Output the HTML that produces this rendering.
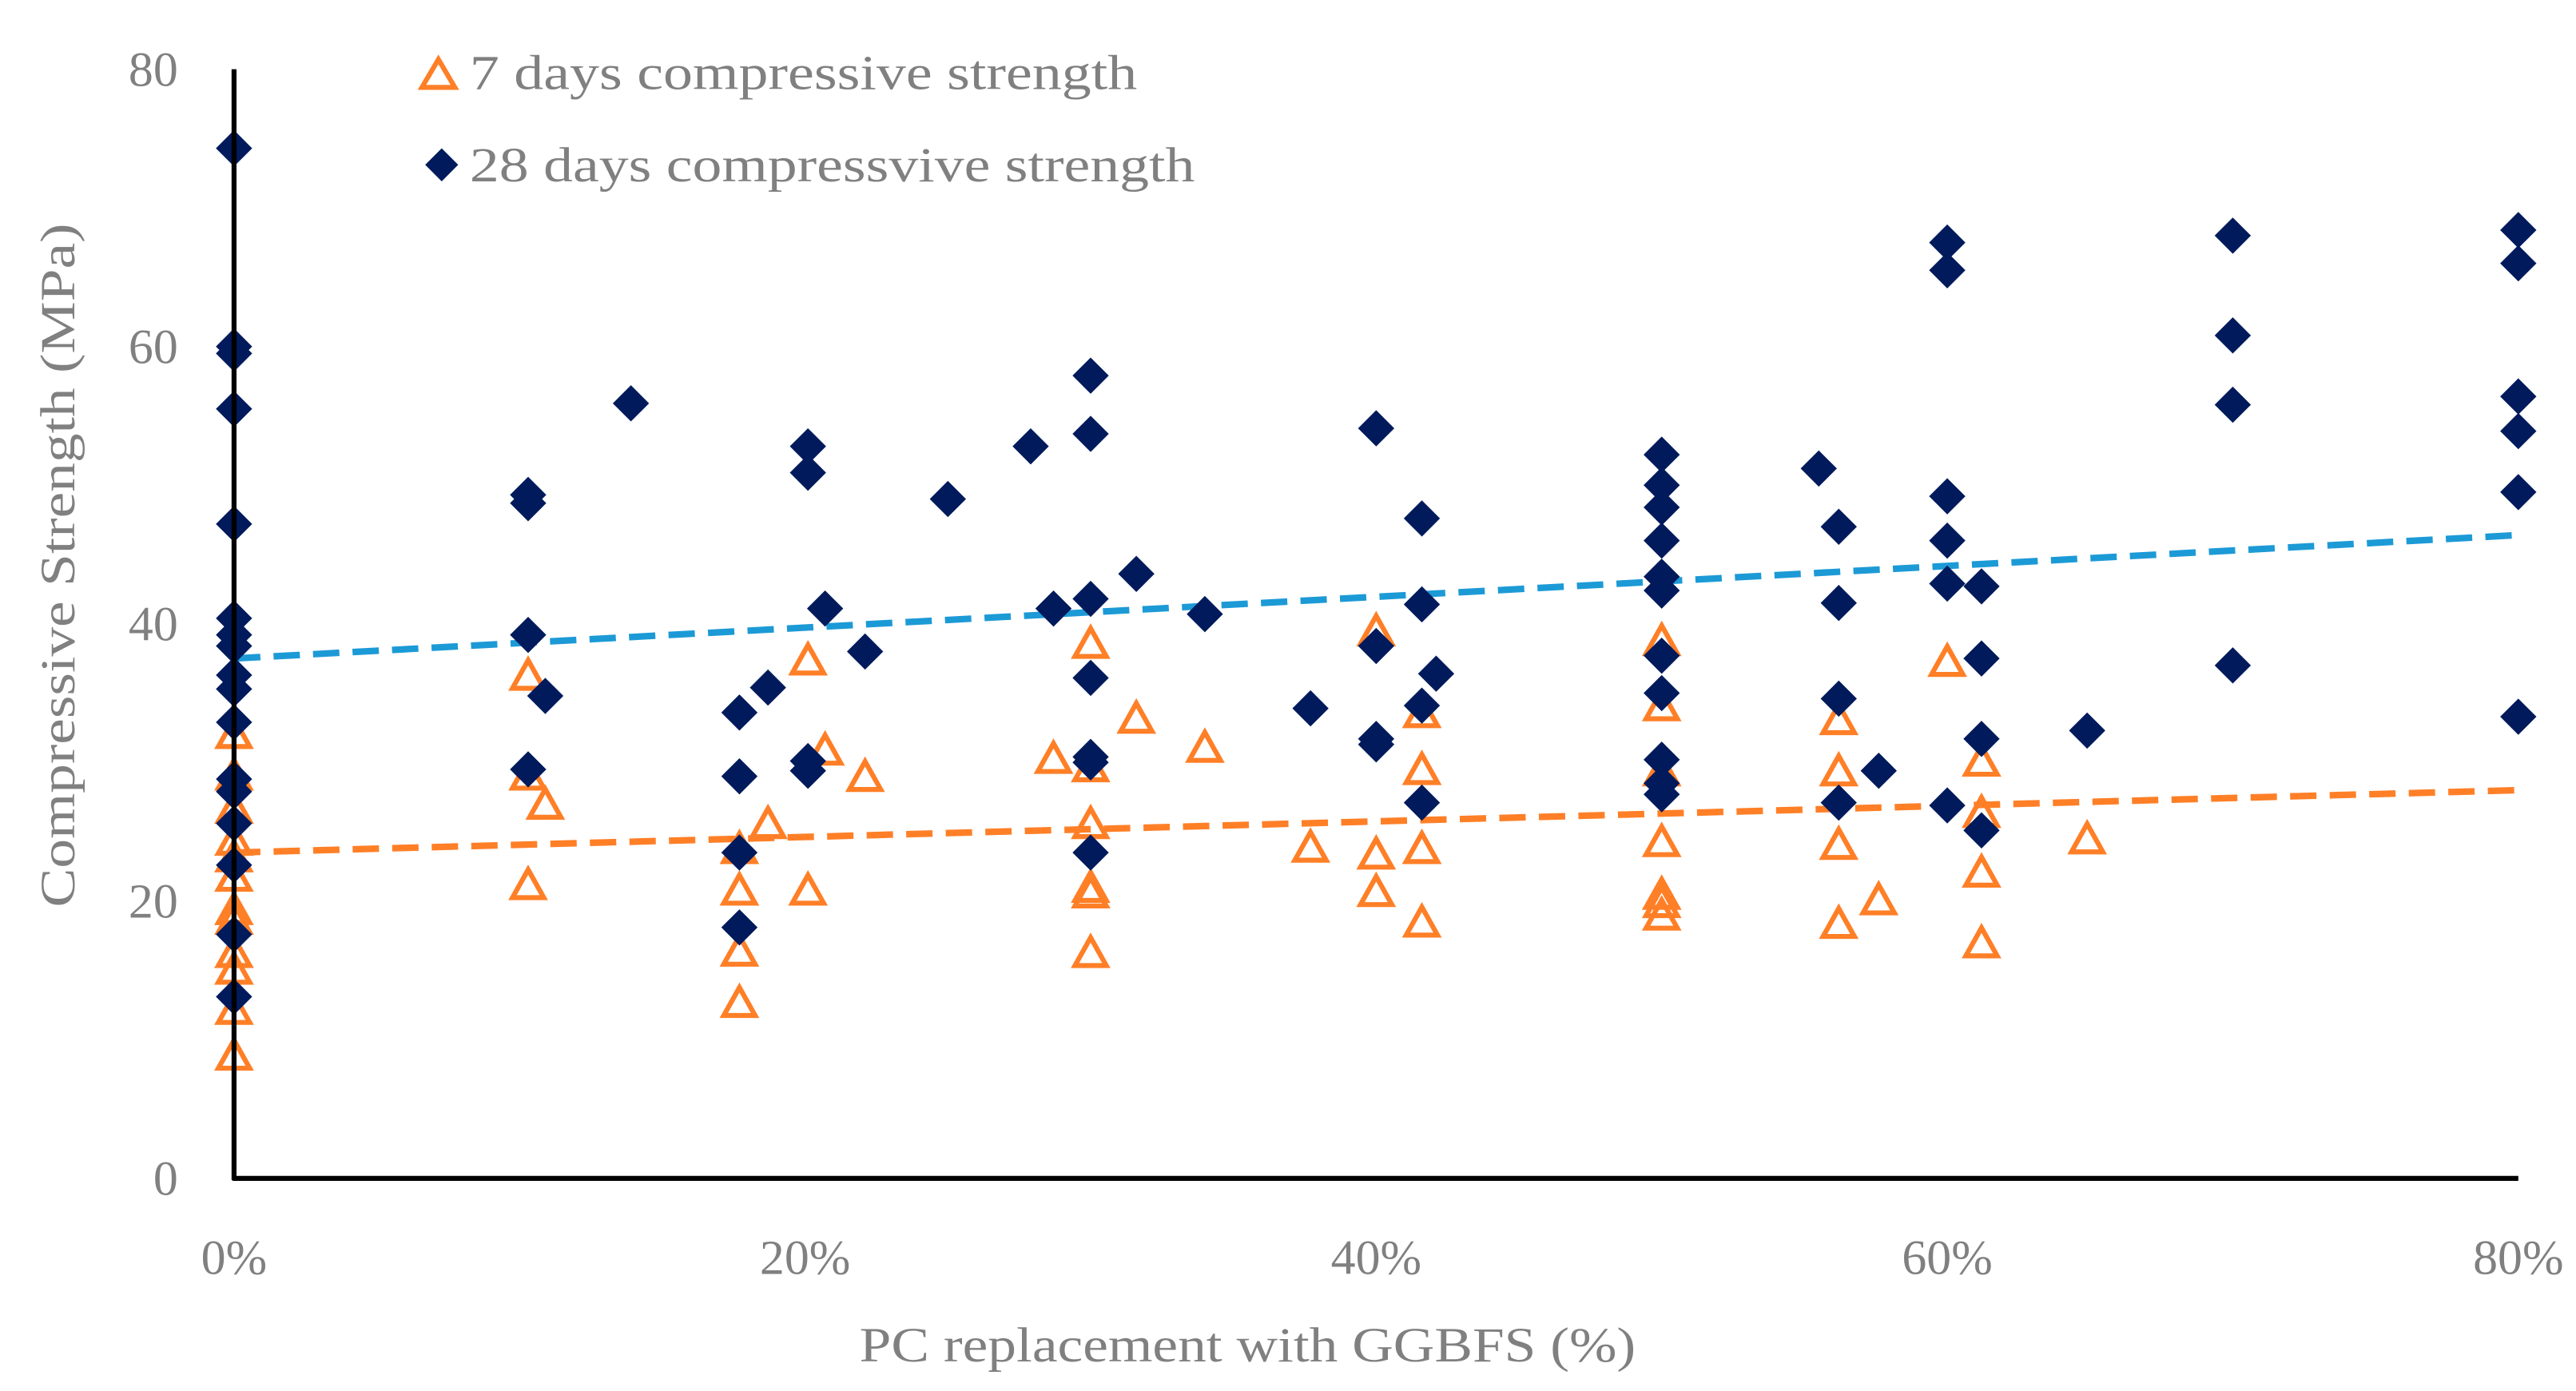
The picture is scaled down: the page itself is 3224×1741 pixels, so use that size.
<!DOCTYPE html>
<html><head><meta charset="utf-8">
<style>
html,body{margin:0;padding:0;background:#fff;}
svg{display:block;}
text{font-family:"Liberation Serif",serif;fill:#808080;}
</style></head>
<body>
<svg id="chart" width="3224" height="1741" viewBox="0 0 1563 844" xmlns="http://www.w3.org/2000/svg">
<g id="trend"></g>
<g id="marks"></g>
<line x1="142" y1="42" x2="142" y2="716" stroke="#000" stroke-width="3"/>
<line x1="141" y1="715" x2="1528" y2="715" stroke="#000" stroke-width="3"/>
<g id="ticks"></g>
<text transform="translate(45,343) rotate(-90)" text-anchor="middle" font-size="30" textLength="415" lengthAdjust="spacingAndGlyphs">Compressive Strength (MPa)</text>
<text x="757" y="826" text-anchor="middle" font-size="30" textLength="471" lengthAdjust="spacingAndGlyphs">PC replacement with GGBFS (%)</text>
<g>
<polygon points="266,36 276,53 256,53" fill="none" stroke="#ff7f27" stroke-width="3"/>
<text x="285" y="54" font-size="30" textLength="405" lengthAdjust="spacingAndGlyphs">7 days compressive strength</text>
<polygon points="268,90 278,100 268,110 258,100" fill="#001a5c"/>
<text x="285" y="110" font-size="30" textLength="440" lengthAdjust="spacingAndGlyphs">28 days compressvive strength</text>
</g>
</svg>
<script>
const xTicks = [0, 20, 40, 60, 80];
const yTicks = [0, 20, 40, 60, 80];
const d28x = [0,0,0,0,0,0,0,0,0,0,0,0,0,0,0,0,0,
 10.3,10.3,10.3,10.3,10.9,13.9,17.7,17.7,17.7,17.7,18.7,20.1,20.1,20.1,20.1,20.7,22.1,25.0,27.9,28.7,
 30,30,30,30,30,30,30,31.6,34.0,37.7,40,40,40,40,41.6,41.6,41.6,41.6,42.1,
 50,50,50,50,50,50,50,50,50,50,50,55.5,56.2,56.2,56.2,56.2,57.6,
 60,60,60,60,60,60,61.2,61.2,61.2,61.2,64.9,70,70,70,70,80,80,80,80,80,80];
const d28y = [74.3,60,59.5,55.5,47.2,40.4,39.2,38.4,36.3,35.3,32.9,28.8,27.9,25.6,22.6,17.6,13.1,
 49.3,48.7,39.2,29.5,34.8,55.9,33.6,29,23.5,18.1,35.4,52.8,50.9,30.1,29.4,41.1,38,49,52.8,41.1,
 57.9,53.7,41.8,36.1,30.4,30,23.5,43.6,40.7,33.9,54.1,38.4,31.7,31.3,47.6,41.4,34.1,27.1,36.4,
 52.2,50,48.4,46,43.4,42.4,37.7,35,30.2,28.5,27.7,51.2,47,41.5,34.6,27.1,29.4,
 67.5,65.5,49.2,46,42.9,26.9,42.7,37.5,31.7,25.1,32.3,68,60.8,55.8,37,68.4,66,56.4,53.9,49.5,33.3];
const d7x = [0,0,0,0,0,0,0,0,0,0,0,0,
 10.3,10.3,10.3,10.9,17.7,17.7,17.7,17.7,18.7,20.1,20.1,20.7,22.1,28.7,
 30,30,30,30,30,30,31.6,34.0,37.7,40,40,40,41.6,41.6,41.6,41.6,
 50,50,50,50,50,50,50,56.2,56.2,56.2,56.2,57.6,60,61.2,61.2,61.2,61.2,64.9];
const d7y = [32.1,29.1,26.7,24.4,23.2,21.8,19.4,18.7,16.3,15.1,12.2,8.9,
 36.3,29.1,21.2,27,23.8,20.8,16.4,12.7,25.6,37.4,20.8,30.9,29,30.3,
 38.6,29.7,25.6,21,20.6,16.3,33.2,31.1,23.9,39.5,23.4,20.7,33.6,29.5,23.8,18.5,
 38.8,34.1,29.4,24.3,20.5,19,19.9,33.1,29.4,24.1,18.4,20.1,37.3,30.1,26.4,22.1,17,24.5];
const trendX = [0, 80];
const trend28 = [37.5, 46.4];
const trend7 = [23.5, 28.0];

const NS = "http://www.w3.org/2000/svg";
const X = v => 142 + v / 80 * 1386;
const Y = v => 715 - v / 80 * 673;
function mk(tag, attrs, parent){const e=document.createElementNS(NS,tag);for(const k in attrs)e.setAttribute(k,attrs[k]);parent.appendChild(e);return e;}
const marks=document.getElementById('marks'), ticks=document.getElementById('ticks'), trend=document.getElementById('trend');

yTicks.forEach(t=>{const e=mk('text',{x:108,y:Y(t)+10,'text-anchor':'end','font-size':30},ticks);e.textContent=t;

});
xTicks.forEach(t=>{const e=mk('text',{x:X(t),y:773,'text-anchor':'middle','font-size':30},ticks);e.textContent=t+'%';

});

const l7=mk('line',{x1:X(trendX[0]),y1:Y(trend7[0]),x2:X(trendX[1]),y2:Y(trend7[1]),stroke:'#ff7f27','stroke-width':4,'stroke-dasharray':'16 8'},trend);


const l28=mk('line',{x1:X(trendX[0]),y1:Y(trend28[0]),x2:X(trendX[1]),y2:Y(trend28[1]),stroke:'#1c9ad6','stroke-width':4,'stroke-dasharray':'16 8'},trend);



d7x.forEach((v,i)=>{const cx=X(v),cy=Y(d7y[i]);
const p=mk('polygon',{points:`${cx},${cy-9} ${cx+9.5},${cy+8} ${cx-9.5},${cy+8}`,fill:'none',stroke:'#ff7f27','stroke-width':3},marks);

});
d28x.forEach((v,i)=>{const cx=X(v),cy=Y(d28y[i]);
const p=mk('polygon',{points:`${cx},${cy-11} ${cx+11},${cy} ${cx},${cy+11} ${cx-11},${cy}`,fill:'#001a5c'},marks);

});
</script>
</body></html>
